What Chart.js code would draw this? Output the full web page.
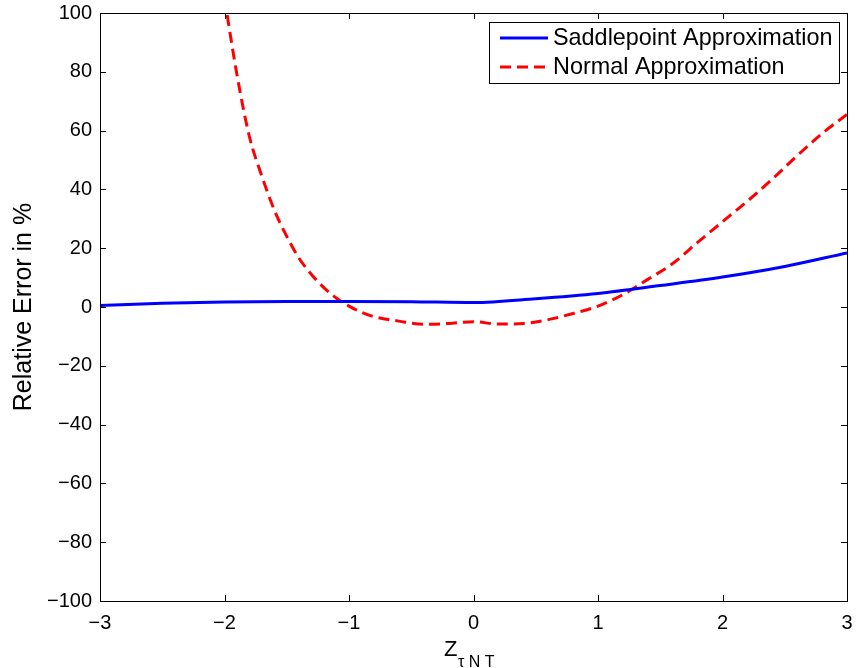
<!DOCTYPE html>
<html>
<head>
<meta charset="utf-8">
<script src="https://cdn.jsdelivr.net/npm/chart.js@4/dist/chart.umd.min.js"></script>
<style>
  html, body { margin: 0; padding: 0; background: #fff; }
  #wrap { width: 856px; height: 668px; }
</style>
</head>
<body>
<div id="wrap"><canvas id="chart"></canvas></div>
<script>
// data
const saddleX = [-3, -2.5, -2, -1.5, -1, -0.5, 0, 0.5, 1, 1.5, 2, 2.5, 3];
const saddleY = [0.5, 1.3, 1.7, 1.9, 1.9, 1.8, 1.5, 2.8, 4.6, 7.3, 10.2, 13.8, 18.4];

const normalX = [-2.0, -1.9, -1.8, -1.7, -1.6, -1.5, -1.4, -1.3, -1.2, -1.1, -1.0, -0.9, -0.8, -0.6, -0.4, -0.2, 0,
                 0.2, 0.4, 0.6, 0.8, 1.0, 1.2, 1.4, 1.6, 1.8, 2.0, 2.2, 2.4, 2.6, 2.8, 3.0];
const normalY = [105, 79, 58, 44.5, 33, 24, 16.5, 11, 6.5, 3, 0.3, -1.8, -3.3, -4.8, -5.9, -5.6, -5,
                 -5.8, -5.6, -4.3, -2.2, 0.3, 4.2, 9.4, 14.8, 22, 29, 36, 43.5, 51.5, 59, 65.5];

const xTicks = [-3, -2, -1, 0, 1, 2, 3];
const yTicks = [-100, -80, -60, -40, -20, 0, 20, 40, 60, 80, 100];

const FONT = 'Liberation Sans, Arial, Helvetica, sans-serif';

function pts(xs, ys) {
    return xs.map((x, i) => ({ x: x, y: ys[i] }));
}

function fmt(v) {
    return v < 0 ? '\u2212' + Math.abs(v) : String(v);
}

// box, inward ticks on all four sides, legend inside, x title with subscript
const matlabStyle = {
    id: 'matlabStyle',
    afterDraw(chart) {
        const ctx = chart.ctx;
        const a = chart.chartArea;
        const xs = chart.scales.x, ys = chart.scales.y;
        const tl = 6;
        ctx.save();
        ctx.strokeStyle = '#000';
        ctx.lineWidth = 1;
        ctx.beginPath();
        xTicks.forEach((t) => {
            const px = Math.round(xs.getPixelForValue(t)) + 0.5;
            ctx.moveTo(px, a.bottom); ctx.lineTo(px, a.bottom - tl);
            ctx.moveTo(px, a.top); ctx.lineTo(px, a.top + tl);
        });
        yTicks.forEach((t) => {
            const py = Math.round(ys.getPixelForValue(t)) + 0.5;
            ctx.moveTo(a.left, py); ctx.lineTo(a.left + tl, py);
            ctx.moveTo(a.right, py); ctx.lineTo(a.right - tl, py);
        });
        ctx.stroke();
        ctx.strokeRect(Math.round(a.left) + 0.5, Math.round(a.top) + 0.5,
            Math.round(a.right - a.left), Math.round(a.bottom - a.top));

        // legend
        const lx = 489, ly = 22, lw = 350, lh = 61;
        ctx.fillStyle = '#fff';
        ctx.fillRect(lx, ly, lw, lh);
        ctx.strokeRect(lx + 0.5, ly + 0.5, lw, lh);
        ctx.font = '23.4px ' + FONT;
        ctx.textBaseline = 'middle';
        ctx.textAlign = 'left';
        chart.data.datasets.forEach((ds, i) => {
            const yy = ly + 16 + i * 29;
            ctx.strokeStyle = ds.borderColor;
            ctx.lineWidth = 3;
            ctx.setLineDash(ds.borderDash || []);
            ctx.beginPath();
            ctx.moveTo(lx + 11, yy);
            ctx.lineTo(lx + 59, yy);
            ctx.stroke();
            ctx.setLineDash([]);
            ctx.fillStyle = '#000';
            ctx.fillText(ds.label, lx + 64, yy + 1);
        });

        // x axis title: Z with subscript
        ctx.fillStyle = '#000';
        ctx.textBaseline = 'alphabetic';
        ctx.font = '22px ' + FONT;
        ctx.fillText('Z', 444, 656);
        ctx.font = '16px ' + FONT;
        ctx.fillText('\u03C4 N T', 458, 667);
        ctx.restore();
    }
};

const ctx = document.getElementById('chart').getContext('2d');
new Chart(ctx, {
    type: 'scatter',
    data: {
        datasets: [{
            label: 'Saddlepoint Approximation',
            data: pts(saddleX, saddleY),
            showLine: true,
            borderColor: '#0000ff',
            borderWidth: 3,
            pointRadius: 0,
            cubicInterpolationMode: 'monotone'
        }, {
            label: 'Normal Approximation',
            data: pts(normalX, normalY),
            showLine: true,
            borderColor: '#ff0000',
            borderWidth: 3,
            borderDash: [11, 6],
            pointRadius: 0,
            cubicInterpolationMode: 'monotone'
        }]
    },
    options: {
        responsive: true,
        maintainAspectRatio: false,
        animation: false,
        layout: { padding: { left: 0, right: 9, top: 13, bottom: 0 } },
        plugins: {
            legend: { display: false },
            tooltip: { enabled: false }
        },
        scales: {
            x: {
                type: 'linear',
                min: -3,
                max: 3,
                afterBuildTicks: (s) => { s.ticks = xTicks.map((v) => ({ value: v })); },
                afterFit: (s) => {
                    s.height = 67;
                    s.paddingLeft = 0;
                    s.paddingRight = 0;
                },
                grid: { display: false, drawTicks: false },
                border: { display: false },
                ticks: {
                    padding: 10,
                    color: '#000',
                    font: { family: FONT, size: 20 },
                    maxRotation: 0,
                    callback: (v) => fmt(v)
                }
            },
            y: {
                min: -100,
                max: 100,
                afterBuildTicks: (s) => { s.ticks = yTicks.map((v) => ({ value: v })); },
                afterFit: (s) => {
                    s.width = 100;
                    s.paddingTop = 0;
                    s.paddingBottom = 0;
                },
                grid: { display: false, drawTicks: false },
                border: { display: false },
                title: {
                    display: true,
                    text: 'Relative Error in %',
                    color: '#000',
                    font: { family: FONT, size: 25 },
                    padding: { top: 9, bottom: 0 }
                },
                ticks: {
                    padding: 8,
                    color: '#000',
                    font: { family: FONT, size: 20 },
                    callback: (v) => fmt(v)
                }
            }
        }
    },
    plugins: [matlabStyle]
});
</script>
</body>
</html>
